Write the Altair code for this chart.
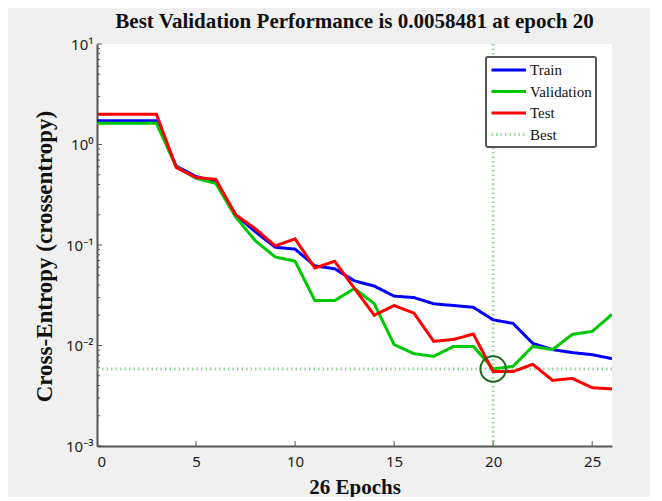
import altair as alt
import pandas as pd

# ---------------- data ----------------
epochs = list(range(27))
train = [1.72, 1.72, 1.72, 1.72, 0.61, 0.48, 0.43, 0.20, 0.135, 0.095, 0.091,
         0.062, 0.058, 0.044, 0.039, 0.031, 0.030, 0.026, 0.025, 0.024, 0.018,
         0.0166, 0.0105, 0.0091, 0.0085, 0.0081, 0.0074]
validation = [1.63, 1.63, 1.63, 1.63, 0.60, 0.46, 0.41, 0.19, 0.11, 0.076, 0.069,
              0.028, 0.028, 0.037, 0.026, 0.0102, 0.0083, 0.0078, 0.0098, 0.0098,
              0.0058481, 0.0062, 0.0098, 0.0091, 0.0129, 0.0138, 0.0204]
test = [2.0, 2.0, 2.0, 2.0, 0.59, 0.47, 0.45, 0.20, 0.145, 0.098, 0.115,
        0.059, 0.069, 0.037, 0.020, 0.025, 0.021, 0.011, 0.0115, 0.013, 0.0055,
        0.0055, 0.0065, 0.0045, 0.0047, 0.0038, 0.0037]

series_names = ["Train", "Validation", "Test", "Best"]
series_colors = ["#0000ff", "#00c800", "#ff0000", "#9cd89c"]
series_dash = [[1, 0], [1, 0], [1, 0], [1.5, 3]]
series_width = [3, 3, 3, 1.3]

best_epoch = 20
best_value = 0.0058481

x_tick_values = [0, 5, 10, 15, 20, 25]
y_tick_values = [10, 1, 0.1, 0.01, 0.001]
y_tick_labels = ["10¹", "10⁰", "10⁻¹", "10⁻²", "10⁻³"]
y_minor_ticks = [k * 10.0 ** e for e in range(-3, 1) for k in range(2, 10)]

title_text = "Best Validation Performance is 0.0058481 at epoch 20"
x_title = "26 Epochs"
y_title = "Cross-Entropy (crossentropy)"

# ---------------- layout / style ----------------
W, H = 515, 402
SERIF = "Liberation Serif, Times New Roman, serif"
SANS = "Noto Sans, DejaVu Sans, sans-serif"
AXIS_COLOR = "#555555"

rows = []
for name, vals in (("Train", train), ("Validation", validation), ("Test", test)):
    for e, v in zip(epochs, vals):
        rows.append({"epoch": e, "value": v, "series": name})
df = pd.DataFrame(rows)

label_expr = " : ".join(
    f"abs(datum.value - {v}) < {v * 1e-6} ? '{lab}'" for v, lab in zip(y_tick_values, y_tick_labels)
) + " : ''"

x_scale = alt.Scale(domain=[0, 26], nice=False, zero=False)
y_scale = alt.Scale(type="log", domain=[0.001, 10], nice=False)


def X(field="epoch"):
    return alt.X(f"{field}:Q", scale=x_scale,
                 axis=alt.Axis(values=x_tick_values, title=x_title, ticks=False, grid=False,
                               labelFont=SANS, labelFontSize=15, labelColor="#222",
                               labelPadding=8, titleFont=SERIF, titleFontSize=21,
                               titleFontWeight="bold", titlePadding=7, titleColor="#111"))


def Y(field="value"):
    return alt.Y(f"{field}:Q", scale=y_scale,
                 axis=alt.Axis(values=y_tick_values, labelExpr=label_expr, title=y_title,
                               ticks=False, grid=False, labelFont=SANS, labelFontSize=15,
                               labelColor="#222", labelPadding=4, titleFont=SERIF,
                               titleFontSize=23, titleFontWeight="bold", titlePadding=9,
                               titleColor="#111", titleY=212))


LEG = dict(orient="none", legendX=389, legendY=13)
color = alt.Color("series:N", scale=alt.Scale(domain=series_names, range=series_colors),
                  title=None, legend=alt.Legend(**LEG))
dash = alt.StrokeDash("series:N", scale=alt.Scale(domain=series_names, range=series_dash),
                      title=None, legend=alt.Legend(**LEG))
swidth = alt.StrokeWidth("series:N", scale=alt.Scale(domain=series_names, range=series_width),
                         title=None, legend=alt.Legend(**LEG))

# Best lines
best_v = alt.Chart(pd.DataFrame({"epoch": [best_epoch], "series": ["Best"]})).mark_rule().encode(
    x=X(), color=color, strokeDash=dash, strokeWidth=swidth)
best_h = alt.Chart(pd.DataFrame({"value": [best_value], "series": ["Best"]})).mark_rule().encode(
    y=Y(), color=color, strokeDash=dash, strokeWidth=swidth)

# curves (train, validation, test drawn in that order)
curves = [
    alt.Chart(df).transform_filter(alt.datum.series == name).mark_line(clip=True).encode(
        x=X(), y=Y(), color=color, strokeDash=dash, strokeWidth=swidth)
    for name in ["Train", "Validation", "Test"]
]

# best point circle
circle = alt.Chart(pd.DataFrame({"epoch": [best_epoch], "value": [best_value]})).mark_point(
    shape="circle", size=650, filled=False, strokeWidth=2, color="#1c6b1c", opacity=1).encode(
    x=X(), y=Y())

# inward ticks (MATLAB style)
x_ticks = alt.Chart(pd.DataFrame({"epoch": x_tick_values[1:]})).mark_rule(
    color=AXIS_COLOR, strokeWidth=1).encode(x=X(), y=alt.value(H), y2=alt.value(H - 5))
y_ticks = alt.Chart(pd.DataFrame({"value": y_tick_values})).mark_rule(
    color=AXIS_COLOR, strokeWidth=1).encode(y=Y(), x=alt.value(0), x2=alt.value(5))
y_minor = alt.Chart(pd.DataFrame({"value": y_minor_ticks})).mark_rule(
    color=AXIS_COLOR, strokeWidth=1).encode(y=Y(), x=alt.value(0), x2=alt.value(3))

chart = alt.layer(best_v, best_h, *curves, circle, x_ticks, y_ticks, y_minor).properties(
    width=W, height=H,
    title=alt.Title(title_text, font=SERIF, fontSize=21, fontWeight="bold", color="#111",
                    anchor="middle", offset=5),
    padding={"left": 89, "top": 36, "right": 38, "bottom": 51},
    autosize=alt.AutoSizeParams(type="none"),
).configure(background="#f0f0f0").configure_view(
    fill="white", stroke=None
).configure_axis(
    domainColor=AXIS_COLOR, domainWidth=2
).configure_legend(
    symbolType="M-1,0H3.6", symbolSize=225, symbolStrokeWidth=3,
    labelFont=SERIF, labelFontSize=15, labelColor="#111", labelOffset=22,
    strokeColor="#555", strokeWidth=2, fillColor="white", padding=4, cornerRadius=2,
    rowPadding=4.5, labelLimit=200
)

chart.save("out.html", embed_options={"renderer": "svg", "actions": False})
